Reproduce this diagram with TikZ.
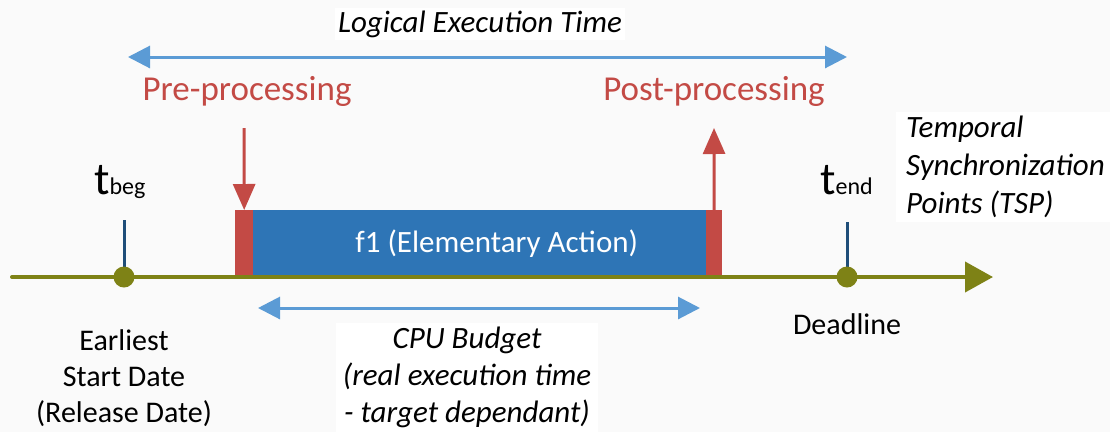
\documentclass[tikz,border=0pt]{standalone}
\usepackage{fontspec}
\setmainfont{Carlito}
\usetikzlibrary{arrows.meta}
\definecolor{paper}{HTML}{FAFAFA}
\definecolor{axisolive}{HTML}{7E8216}
\definecolor{stemblue}{HTML}{1F4E79}
\definecolor{actblue}{HTML}{2E75B6}
\definecolor{procred}{HTML}{C34A45}
\definecolor{spanblue}{HTML}{5B9BD5}
\tikzset{
  axisline/.style={draw=axisolive,line width=4pt,line cap=round,-{Triangle[length=28pt,width=30pt]}},
  tsp/.style={circle,fill=axisolive,minimum size=21pt,inner sep=0pt},
  stemline/.style={draw=stemblue,line width=3pt},
  procbox/.style={fill=procred,inner sep=0pt,minimum height=65pt,anchor=north west},
  actbox/.style={fill=actblue,inner sep=0pt,minimum height=65pt,anchor=north west},
  actlabel/.style={text=white,font=\fontsize{31}{34}\selectfont},
  procarrow/.style={draw=procred,line width=3pt,-{Triangle[length=26pt,width=22pt]}},
  spanarrow/.style={draw=spanblue,line width=3pt,{Triangle[length=22pt,width=22pt]}-{Triangle[length=22pt,width=22pt]}},
  proclabel/.style={text=procred,font=\fontsize{35}{38}\selectfont},
  plainlabel/.style={font=\fontsize{30}{36}\selectfont,align=center,inner sep=0pt},
  notebox/.style={fill=white,inner sep=3pt,font=\itshape\fontsize{31}{37}\selectfont},
  tlabel/.style={font=\fontsize{46}{48}\selectfont}
}
\begin{document}
\begin{tikzpicture}[x=1pt,y=-1pt]
  \fill[paper] (0,0) rectangle (1110,432);
  \useasboundingbox (0,0) rectangle (1110,432);

  % elementary action with its pre- and post-processing slots
  \node[procbox,minimum width=18pt] (pre) at (235,210) {};
  \node[actbox,minimum width=453pt] (act) at (253,210) {};
  \node[procbox,minimum width=16pt] (post) at (706,210) {};
  \node[actlabel] (actname) at ([xshift=17pt,yshift=-1pt]act.center) {f1 (Elementary Action)};

  % time axis
  \coordinate (axstart) at (12,277);
  \coordinate (axend) at (993,277);
  \draw[axisline] (axstart) -- (axend);

  % temporal synchronization points
  \coordinate (begtop) at (124,220);
  \coordinate (endtop) at (847,222);
  \draw[stemline] (begtop) -- (124,277);
  \draw[stemline] (endtop) -- (847,277);
  \node[tsp] (tbegdot) at (124,277) {};
  \node[tsp] (tenddot) at (847,277) {};

  \node[tlabel,anchor=base west,inner sep=0pt] (tbeg) at (94,194) {t{\fontsize{24}{26}\selectfont beg}};
  \node[tlabel,anchor=base west,inner sep=0pt] (tend) at (820,194) {t{\fontsize{24}{26}\selectfont end}};

  % pre/post processing arrows
  \coordinate (pretop) at (244,128);
  \coordinate (posttop) at (714,128);
  \draw[procarrow] (pretop) -- (pre.north);
  \draw[procarrow] (post.north) -- (posttop);
  \node[proclabel] (prelabel) at (247,91) {Pre-processing};
  \node[proclabel] (postlabel) at (714,91) {Post-processing};

  % logical execution time span
  \coordinate (letL) at (128,57);
  \coordinate (letR) at (847,57);
  \draw[spanarrow] (letL) -- (letR);
  \node[notebox] (letlabel) at (480,24) {Logical Execution Time};

  % CPU budget span
  \coordinate (cpuL) at (258,308);
  \coordinate (cpuR) at (700,308);
  \draw[spanarrow] (cpuL) -- (cpuR);
  \node[notebox,align=center,anchor=north,inner xsep=7pt,inner ysep=4pt] (cpulabel) at (467,323)
    {CPU Budget\\(real execution time\\- target dependant)};

  % axis annotations
  \node[plainlabel,anchor=north] (startlabel) at (124,329) {Earliest\\Start Date\\(Release Date)};
  \node[plainlabel,anchor=north] (deadline) at (847,313) {Deadline};
  \node[notebox,align=left,anchor=north west,inner xsep=10pt,inner ysep=4pt,
        font=\itshape\fontsize{31}{38}\selectfont] (tsplabel) at (896,112)
    {Temporal\\Synchronization\\Points (TSP)};
\end{tikzpicture}
\end{document}
